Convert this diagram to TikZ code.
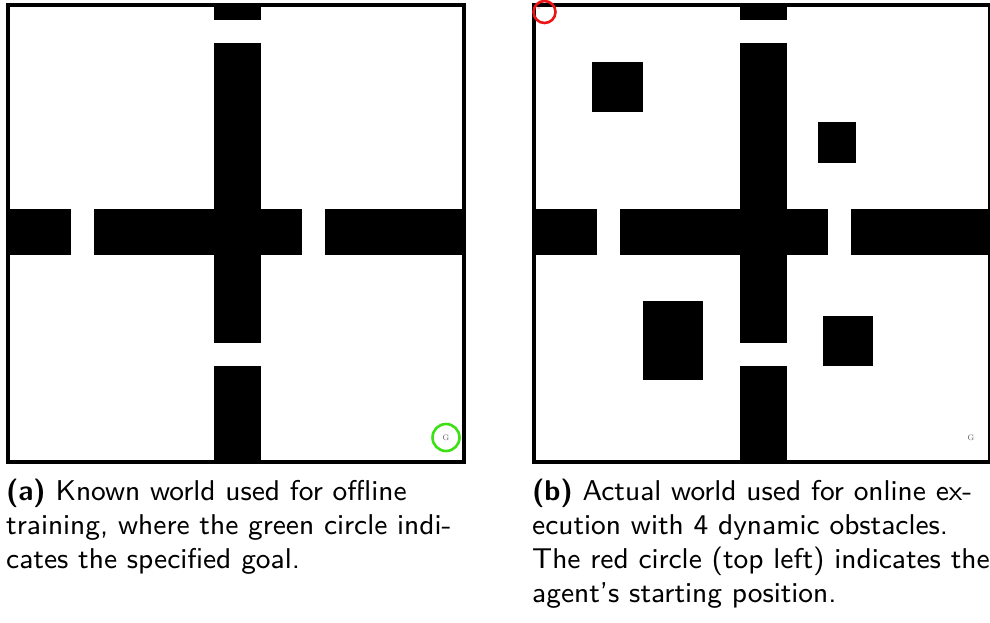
\documentclass[tikz,border=0pt]{standalone}
\usepackage{tikz}
\usepackage{graphicx}
\newcommand{\captext}[1]{\scalebox{3.18}{\fontsize{9}{10}\selectfont\sffamily #1}}
\tikzset{
  wall/.style={fill=black},
  frame/.style={draw=black,line width=4pt},
  goalring/.style={draw={rgb,255:red,60;green,225;blue,20},line width=2.6pt},
  startring/.style={draw={rgb,255:red,235;green,20;blue,20},line width=2.6pt},
  tinylabel/.style={font=\fontsize{8}{9}\selectfont,text=black!65,inner sep=0pt},
  caption/.style={anchor=base west,inner sep=0pt},
  walls/.pic={
    \fill[wall] (214,3) rectangle (261,20);
    \fill[wall] (214,43) rectangle (261,343);
    \fill[wall] (214,366) rectangle (261,464);
    \fill[wall] (6,209) rectangle (71,255);
    \fill[wall] (94,209) rectangle (302,255);
    \fill[wall] (325,209) rectangle (466,255);
    \draw[frame] (8,5) rectangle (464,462);
  }
}
\begin{document}
\begin{tikzpicture}[x=1pt,y=-1pt]
\useasboundingbox (0,0) rectangle (990,622);
\fill[white] (0,0) rectangle (990,622);
% panel (a)
\pic at (0,0) {walls};
\draw[goalring] (446,437.5) circle (13.5);
\node[tinylabel] (goalA) at (446,437.5) {G};
% panel (b)
\pic at (526,0) {walls};
\fill[wall] (592,62) rectangle (643,112);
\fill[wall] (818,122) rectangle (856,163);
\fill[wall] (643,301) rectangle (703,380);
\fill[wall] (823,316) rectangle (873,366);
\draw[startring] (544.5,12) circle (11);
\node[font=\fontsize{5}{5}\selectfont,text=red!55,inner sep=0pt] (startB) at (539,8) {x};
\node[tinylabel] (goalB) at (971,437.5) {G};
% captions
\node[caption] (capA1) at (6,500.7) {\captext{\textbf{(a)} Known world used for offline}};
\node[caption] (capA2) at (6,534.7) {\captext{training, where the green circle indi-}};
\node[caption] (capA3) at (6,568.7) {\captext{cates the specified goal.}};
\node[caption] (capB1) at (532,500.7) {\captext{\textbf{(b)} Actual world used for online ex-}};
\node[caption] (capB2) at (532,534.7) {\captext{ecution with 4 dynamic obstacles.}};
\node[caption] (capB3) at (532,568.7) {\captext{The red circle (top left) indicates the}};
\node[caption] (capB4) at (532,602.7) {\captext{agent's starting position.}};
\end{tikzpicture}
\end{document}
